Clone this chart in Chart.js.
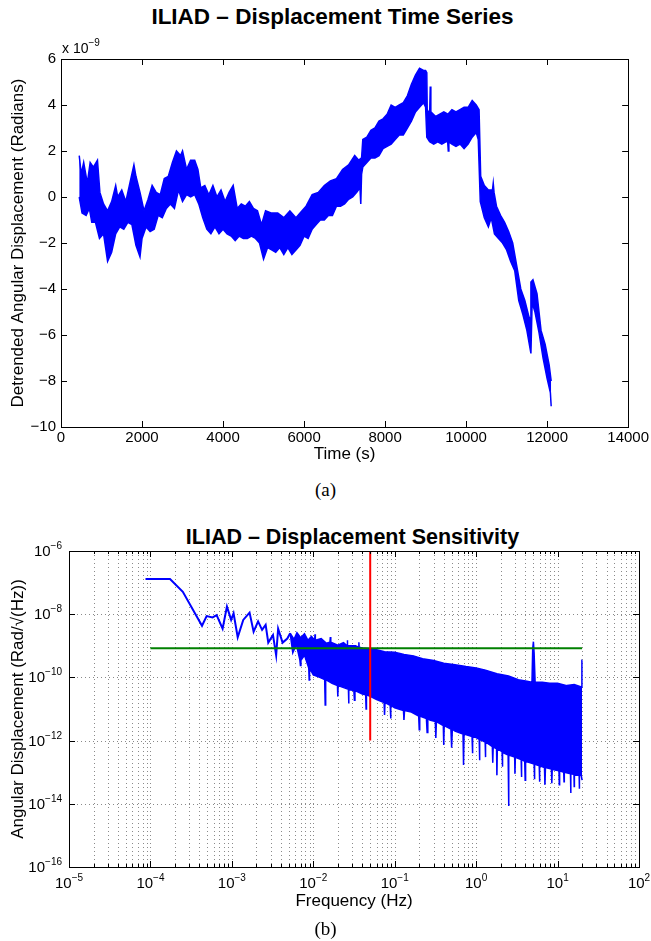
<!DOCTYPE html>
<html>
<head>
<meta charset="utf-8">
<script src="https://cdn.jsdelivr.net/npm/chart.js@4.4.1/dist/chart.umd.min.js"></script>
<style>
html, body { margin: 0; padding: 0; background: #fff; }
body { width: 651px; height: 941px; position: relative; overflow: hidden; font-family: "Liberation Sans", Arial, sans-serif; }
.box { position: absolute; left: 0; width: 651px; }
.title { position: absolute; width: 651px; text-align: center; font-weight: bold; line-height: 26px; color: #000; }
.cap { position: absolute; left: 0; width: 651px; text-align: center; font-family: "Liberation Serif", "Times New Roman", serif; font-size: 19px; line-height: 22px; color: #000; }
</style>
</head>
<body>
<div class="title" style="top:4px;left:7px;font-size:22.5px">ILIAD – Displacement Time Series</div>
<div class="box" style="top:0;height:470px"><canvas id="seriesChart"></canvas></div>
<div class="cap" style="top:479px">(a)</div>

<div class="title" style="top:524px;left:27px;font-size:21.5px">ILIAD – Displacement Sensitivity</div>
<div class="box" style="top:500px;height:420px"><canvas id="psdChart"></canvas></div>
<div class="cap" style="top:918px">(b)</div>

<script>
// ---- (a) detrended displacement, units of 1e-9 rad: upper / lower edge of the noise band
const timeUpper = [450, 500, 560, 650, 720, 800, 900, 960, 1050, 1150, 1250, 1350, 1400, 1500, 1600, 1700, 1800, 1850, 1950, 2050,
  2150, 2250, 2350, 2450, 2550, 2650, 2750, 2850, 2950, 3000, 3100, 3200, 3300, 3380, 3450, 3550, 3650, 3750, 3850, 3950,
  4050, 4150, 4250, 4350, 4450, 4550, 4650, 4750, 4850, 4950, 5050, 5200, 5350, 5500, 5650, 5800, 5950, 6050, 6200, 6350,
  6500, 6650, 6800, 6950, 7100, 7250, 7350, 7420, 7450, 7550, 7650, 7750, 7850, 7950, 8050, 8150, 8250, 8350, 8450, 8550, 8650,
  8750, 8850, 8950, 9000, 9030, 9040, 9100, 9115, 9130, 9250, 9350, 9450, 9550, 9650, 9750, 9850, 9950, 10050, 10150, 10250, 10320, 10360,
  10450, 10550, 10650, 10670, 10690, 10750, 10850, 10950, 11050, 11150, 11250, 11350, 11450, 11550, 11580, 11600, 11650, 11750, 11850, 11950, 12050, 12100];
const dispUpper = [1.8, 1.0, 1.5, 0.6, 1.5, 1.3, 1.6, 0.2, -0.3, -0.6, -0.2, 0.5, 0.0, 0.3, -0.2, 0.6, 1.4, 0.9, 0.2, -0.6,
  -0.1, 0.5, 0.2, 0.1, 0.8, 0.9, 1.5, 2.0, 1.8, 2.0, 1.2, 1.6, 1.6, 1.2, 0.4, 0.5, 0.1, 0.5, 0.0, 0.3,
  -0.2, 0.2, 0.5, -0.5, -0.3, -0.4, -0.2, -0.5, -0.6, -1.2, -0.6, -0.7, -0.7, -0.9, -0.6, -0.9, -0.6, -0.4, 0.1, 0.2,
  0.5, 0.7, 0.8, 1.2, 1.4, 1.8, 1.6, 1.7, 2.5, 2.6, 2.9, 3.0, 3.3, 3.4, 3.6, 4.0, 3.9, 4.0, 4.1, 4.4, 4.9,
  5.3, 5.6, 5.5, 5.5, 5.4, 3.8, 3.6, 4.8, 3.7, 3.5, 3.6, 3.7, 3.6, 3.8, 3.7, 3.8, 3.9, 3.9, 4.2, 4.0, 3.8, 0.9,
  0.5, 0.3, 0.3, 0.6, 0.2, -0.4, -0.8, -1.1, -1.5, -2.0, -3.0, -4.0, -4.5, -5.2, -5.3, -3.7, -3.6, -4.2, -5.8, -6.4, -7.3, -8.0];
const timeLower = [450, 520, 620, 700, 760, 850, 950, 1050, 1150, 1250, 1350, 1450, 1550, 1650, 1750, 1850, 1950, 2000, 2100, 2200,
  2300, 2400, 2500, 2600, 2700, 2800, 2900, 3000, 3100, 3200, 3300, 3400, 3500, 3600, 3700, 3800, 3900, 4000, 4100, 4200,
  4300, 4400, 4500, 4600, 4700, 4800, 4900, 5000, 5100, 5200, 5300, 5400, 5500, 5600, 5700, 5800, 5900, 6000, 6100, 6200,
  6300, 6400, 6500, 6600, 6700, 6800, 6900, 7000, 7100, 7200, 7300, 7380, 7400, 7420, 7450, 7550, 7650, 7750, 7850, 7950, 8050, 8150,
  8250, 8350, 8450, 8550, 8650, 8750, 8850, 8950, 9000, 9030, 9100, 9200, 9300, 9400, 9500, 9545, 9560, 9575, 9650, 9750, 9850, 9950,
  10050, 10150, 10250, 10300, 10350, 10450, 10550, 10620, 10700, 10800, 10900, 11000, 11100, 11200, 11300, 11400, 11500, 11600, 11630, 11700,
  11800, 11900, 12000, 12080, 12100];
const dispLower = [0.0, -0.7, -0.8, -0.5, -1.1, -1.1, -1.8, -1.6, -2.8, -2.4, -1.6, -1.3, -1.4, -1.1, -1.2, -2.1, -2.6, -1.8, -1.3, -1.5,
  -1.4, -0.8, -0.9, -0.5, -0.3, -0.5, 0.3, -0.2, 0.1, 0.0, 0.1, -0.3, -0.9, -1.4, -1.6, -1.3, -1.6, -1.4, -1.6, -1.7,
  -1.9, -1.7, -1.8, -1.8, -1.7, -1.8, -2.0, -2.7, -2.2, -2.3, -2.4, -2.2, -2.5, -2.2, -2.5, -2.3, -2.1, -1.7, -1.8, -1.4,
  -1.2, -1.0, -1.0, -0.8, -0.8, -0.4, -0.4, -0.3, -0.1, 0.0, 0.2, 0.4, -0.3, 1.0, 1.3, 1.5, 1.7, 1.7, 1.8, 2.1, 2.2, 2.3,
  2.5, 2.7, 2.7, 3.0, 3.3, 3.7, 3.9, 4.1, 3.9, 2.6, 2.4, 2.3, 2.4, 2.3, 2.4, 2.4, 2.0, 2.4, 2.3, 2.2, 2.3, 2.1,
  2.3, 2.6, 2.8, 2.5, -0.2, -0.9, -1.3, -0.9, -1.6, -1.8, -2.0, -2.3, -2.8, -3.2, -4.5, -5.1, -5.8, -6.8, -4.6, -5.0,
  -5.9, -7.0, -7.9, -8.5, -9.1];
const timeTicks = [0, 2000, 4000, 6000, 8000, 10000, 12000, 14000];
const dispTicks = [-10, -8, -6, -4, -2, 0, 2, 4, 6];

// ---- (b) amplitude spectral density, rad/sqrt(Hz)
const freqLow = [8.7e-5, 1.74e-4, 2.5e-4, 4.3e-4, 4.9e-4, 5.8e-4, 6.5e-4, 7.7e-4, 8.7e-4, 9.8e-4, 1.05e-3, 1.18e-3, 1.38e-3, 1.65e-3,
  1.85e-3, 2.1e-3, 2.35e-3, 2.6e-3, 2.8e-3, 3.2e-3, 3.5e-3, 3.7e-3, 4.2e-3, 4.8e-3, 5.2e-3];
const asdLow = [1.29e-7, 1.29e-7, 5.1e-8, 4.3e-9, 8.7e-9, 7.9e-9, 9.3e-9, 3.5e-9, 1.74e-8, 6.6e-9, 1.07e-8, 1.86e-9, 6.6e-9, 1.12e-8,
  2.8e-9, 5.9e-9, 3.2e-9, 4.6e-9, 1.26e-9, 2.2e-9, 5e-10, 3.5e-9, 1.26e-9, 1.7e-9, 2.5e-9];
const freqTop = [5.2e-3, 5.8e-3, 6.3e-3, 7e-3, 7.8e-3, 8.6e-3, 9.5e-3, 1.04e-2, 1.05e-2, 1.06e-2, 1.25e-2, 1.45e-2, 1.6e-2, 1.62e-2, 1.64e-2,
  2.0e-2, 2.35e-2, 2.6e-2, 2.62e-2, 2.64e-2, 3.3e-2, 3.6e-2, 3.63e-2, 3.66e-2, 4e-2, 5e-2, 6e-2, 7.5e-2,
  0.1, 0.13, 0.17, 0.22, 0.3, 0.4, 0.55, 0.75, 1.0, 1.3, 1.8, 2.5, 3.3, 4.2, 4.85, 4.95, 5.05, 5.15, 5.3,
  6.5, 8, 10, 13, 16, 19.6, 19.9, 20];
const asdTop = [2.5e-9, 1.6e-9, 2.6e-9, 1.8e-9, 2.4e-9, 1.5e-9, 2.0e-9, 1.5e-9, 2.3e-9, 1.5e-9, 1.7e-9, 1.2e-9, 1.3e-9, 1.9e-9, 1.3e-9,
  1.05e-9, 1.25e-9, 1.0e-9, 1.5e-9, 1.0e-9, 1.0e-9, 9e-10, 1.3e-9, 9e-10, 8.5e-10, 8e-10, 7.5e-10, 6.5e-10,
  6.3e-10, 5.3e-10, 4.8e-10, 3.9e-10, 3.4e-10, 2.8e-10, 2.5e-10, 2.2e-10, 2e-10, 1.7e-10, 1.3e-10, 1.1e-10, 8.5e-11, 7.5e-11, 7e-11, 8e-10, 1.35e-9, 6e-10, 7e-11,
  7e-11, 6.5e-11, 6.5e-11, 5.5e-11, 6e-11, 5e-11, 3.5e-10, 3.5e-10];
const freqBottom = [5.2e-3, 5.6e-3, 6.2e-3, 6.85e-3, 6.95e-3, 7.05e-3, 7.8e-3, 8.8e-3, 8.9e-3, 9.0e-3, 1.0e-2, 1.2e-2, 1.38e-2, 1.4e-2, 1.42e-2,
  1.7e-2, 1.98e-2, 2.0e-2, 2.02e-2, 2.5e-2, 2.7e-2, 2.72e-2, 2.74e-2, 3.15e-2, 3.2e-2, 3.25e-2, 4e-2, 4.4e-2, 4.45e-2, 4.5e-2, 5e-2, 6e-2,
  7.4e-2, 7.5e-2, 7.6e-2, 8.8e-2, 8.9e-2, 9.0e-2, 0.1, 0.128, 0.13, 0.132, 0.16, 0.197, 0.2, 0.203, 0.245, 0.25, 0.255, 0.27,
  0.315, 0.32, 0.325, 0.395, 0.4, 0.405, 0.49, 0.5, 0.51, 0.55, 0.69, 0.7, 0.71, 0.85, 0.89, 0.9, 0.91, 1.0, 1.09, 1.1, 1.11,
  1.29, 1.3, 1.31, 1.4, 1.58, 1.6, 1.62, 1.78, 1.8, 1.82, 2.08, 2.1, 2.12, 2.2, 2.47, 2.5, 2.53, 2.97, 3.0, 3.03, 3.2,
  3.57, 3.6, 3.63, 3.95, 4.0, 4.05, 5.15, 5.2, 5.25, 5.5, 5.95, 6.0, 6.05, 6.9, 7.0, 7.1, 8.4, 8.5, 8.6, 9,
  10.4, 10.5, 10.6, 11.9, 12, 12.1, 14.4, 14.5, 14.6, 15.9, 16, 16.1, 17, 18.4, 18.5, 18.6, 19.5, 20];
const asdBottom = [2.5e-9, 6e-10, 1.1e-9, 3.5e-10, 2.4e-10, 3.5e-10, 5e-10, 2e-10, 8.3e-11, 2e-10, 1.2e-10, 1e-10, 8.5e-11, 1.35e-11, 8.5e-11,
  6.5e-11, 5.5e-11, 2.5e-11, 5.5e-11, 4.5e-11, 4.2e-11, 1.5e-11, 4.2e-11, 3.8e-11, 1.9e-11, 3.8e-11, 3e-11, 2.8e-11, 1e-11, 2.8e-11, 2.5e-11, 2e-11,
  1.6e-11, 6.5e-12, 1.6e-11, 1.3e-11, 5e-12, 1.3e-11, 1.1e-11, 9e-12, 4.5e-12, 9e-12, 8e-12, 6e-12, 2.2e-12, 6e-12, 5e-12, 1.8e-12, 5e-12, 4.5e-12,
  4e-12, 1.2e-12, 4e-12, 3e-12, 7.3e-13, 3e-12, 2.3e-12, 6e-13, 2.3e-12, 2e-12, 1.6e-12, 1.7e-13, 1.6e-12, 1.4e-12, 1.35e-12, 4e-13, 1.35e-12, 1.25e-12, 1.1e-12, 2.4e-13, 1.1e-12,
  9e-13, 3e-13, 9e-13, 8e-13, 6.5e-13, 2e-13, 6.5e-13, 5.5e-13, 8e-14, 5.5e-13, 4.5e-13, 1.5e-13, 4.5e-13, 4e-13, 3.5e-13, 8.5e-15, 3.5e-13, 3e-13, 9e-14, 3e-13, 2.8e-13,
  2.5e-13, 7e-14, 2.5e-13, 2.2e-13, 5.6e-14, 2.2e-13, 1.8e-13, 6e-14, 1.8e-13, 1.7e-13, 1.6e-13, 5e-14, 1.6e-13, 1.4e-13, 4e-14, 1.4e-13, 1.25e-13, 4.5e-14, 1.25e-13, 1.2e-13,
  1.1e-13, 4e-14, 1.1e-13, 1e-13, 5e-14, 1e-13, 9e-14, 2.2e-14, 9e-14, 8.5e-14, 3.5e-14, 8.5e-14, 8e-14, 8e-14, 3e-14, 8e-14, 8e-14, 5.6e-14];
const markerFreq = [0.05, 0.05];
const markerAsd = [1e-6, 1e-12];
const levelFreq = [1e-4, 20];
const levelAsd = [8.3e-10, 8.3e-10];
const freqDecades = [-5, -4, -3, -2, -1, 0, 1, 2];
const asdDecades = [-16, -14, -12, -10, -8, -6];

const BLUE = '#0000ff';
const FONT = '"Liberation Sans", Arial, sans-serif';
const pts = (xs, ys) => xs.map((x, i) => ({ x: x, y: ys[i] }));

function drawPow(ctx, exp, x, baseY, align) {
    const base = '10';
    const sup = (exp < 0 ? '\u2212' : '') + Math.abs(exp);
    ctx.font = '15px ' + FONT;
    const wb = ctx.measureText(base).width;
    ctx.font = '10px ' + FONT;
    const ws = ctx.measureText(sup).width;
    const x0 = align === 'center' ? x - (wb + ws) / 2 : x - wb - ws;
    ctx.textAlign = 'left';
    ctx.textBaseline = 'alphabetic';
    ctx.font = '15px ' + FONT;
    ctx.fillText(base, x0, baseY);
    ctx.font = '10px ' + FONT;
    ctx.fillText(sup, x0 + wb, baseY - 7);
}

// matlab-like box: inward ticks on all sides, optional dotted grid
function boxAxes(cfg) {
    return {
        id: 'boxAxes',
        beforeDatasetsDraw(chart) {
            if (!cfg.grid) return;
            const { ctx, chartArea: a, scales: { x, y } } = chart;
            ctx.save();
            ctx.strokeStyle = '#8a8a8a';
            ctx.lineWidth = 1;
            ctx.setLineDash([1, 3]);
            ctx.beginPath();
            cfg.xGrid.forEach(v => {
                const px = Math.round(x.getPixelForValue(v)) + 0.5;
                ctx.moveTo(px, a.top); ctx.lineTo(px, a.bottom);
            });
            cfg.yGrid.forEach(v => {
                const py = Math.round(y.getPixelForValue(v)) + 0.5;
                ctx.moveTo(a.left, py); ctx.lineTo(a.right, py);
            });
            ctx.stroke();
            ctx.restore();
        },
        afterDraw(chart) {
            const { ctx, chartArea: a, scales: { x, y } } = chart;
            ctx.save();
            ctx.strokeStyle = '#000';
            ctx.lineWidth = 1;
            ctx.beginPath();
            cfg.xMajor.forEach(v => {
                const px = Math.round(x.getPixelForValue(v)) + 0.5;
                ctx.moveTo(px, a.bottom); ctx.lineTo(px, a.bottom - 6);
                ctx.moveTo(px, a.top); ctx.lineTo(px, a.top + 6);
            });
            (cfg.xMinor || []).forEach(v => {
                const px = Math.round(x.getPixelForValue(v)) + 0.5;
                ctx.moveTo(px, a.bottom); ctx.lineTo(px, a.bottom - 3);
                ctx.moveTo(px, a.top); ctx.lineTo(px, a.top + 3);
            });
            cfg.yMajor.forEach(v => {
                const py = Math.round(y.getPixelForValue(v)) + 0.5;
                ctx.moveTo(a.left, py); ctx.lineTo(a.left + 6, py);
                ctx.moveTo(a.right, py); ctx.lineTo(a.right - 6, py);
            });
            ctx.stroke();
            ctx.strokeRect(Math.round(a.left) + 0.5, Math.round(a.top) + 0.5,
                Math.round(a.right - a.left), Math.round(a.bottom - a.top));
            ctx.fillStyle = '#000';
            if (cfg.powLabels) {
                freqDecades.forEach(e => drawPow(ctx, e, x.getPixelForValue(Math.pow(10, e)), a.bottom + 21, 'center'));
                asdDecades.forEach(e => drawPow(ctx, e, a.left - 7, y.getPixelForValue(Math.pow(10, e)) + 5, 'right'));
            }
            if (cfg.multiplier) {
                ctx.font = '14px ' + FONT;
                ctx.textAlign = 'left';
                ctx.textBaseline = 'alphabetic';
                ctx.fillText('x 10', a.left + 1, a.top - 6);
                const w = ctx.measureText('x 10').width;
                ctx.font = '10px ' + FONT;
                ctx.fillText('\u22129', a.left + 1 + w, a.top - 13);
            }
            ctx.restore();
        }
    };
}

const xMinorLog = [];
freqDecades.slice(0, -1).forEach(e => { for (let k = 2; k <= 9; k++) xMinorLog.push(k * Math.pow(10, e)); });
const xMajorLog = freqDecades.map(e => Math.pow(10, e));
const yMajorLog = asdDecades.map(e => Math.pow(10, e));

const ctxSeries = document.getElementById('seriesChart');
const ctxPsd = document.getElementById('psdChart');

if (ctxSeries) {
    new Chart(ctxSeries, {
        type: 'line',
        data: {
            datasets: [
                { data: pts(timeLower, dispLower), borderColor: BLUE, borderWidth: 1.5, pointRadius: 0, fill: false },
                { data: pts(timeUpper, dispUpper), borderColor: BLUE, backgroundColor: BLUE, borderWidth: 1.5, pointRadius: 0, fill: '-1' }
            ]
        },
        options: {
            responsive: true,
            maintainAspectRatio: false,
            animation: false,
            layout: { padding: { top: 59, right: 22, left: 0, bottom: 0 } },
            plugins: { legend: { display: false }, tooltip: { enabled: false } },
            scales: {
                x: {
                    type: 'linear', min: 0, max: 14000,
                    afterBuildTicks: s => { s.ticks = timeTicks.map(v => ({ value: v })); },
                    afterFit: s => { s.height = 43; },
                    grid: { display: false, drawTicks: false },
                    border: { display: false },
                    ticks: { color: '#000', font: { family: FONT, size: 15 }, padding: 2, maxRotation: 0, autoSkip: false, callback: v => String(v) },
                    title: { display: true, text: 'Time (s)', color: '#000', font: { family: FONT, size: 17 }, padding: { top: 0, bottom: 5 } }
                },
                y: {
                    type: 'linear', min: -10, max: 6,
                    afterBuildTicks: s => { s.ticks = dispTicks.map(v => ({ value: v })); },
                    afterFit: s => { s.width = 61; },
                    grid: { display: false, drawTicks: false },
                    border: { display: false },
                    ticks: { color: '#000', font: { family: FONT, size: 15 }, padding: 5, callback: v => String(v).replace('-', '\u2212') },
                    title: { display: true, text: 'Detrended Angular Displacement (Radians)', color: '#000', font: { family: FONT, size: 17 }, padding: { top: 8, bottom: 0 } }
                }
            }
        },
        plugins: [boxAxes({ xMajor: timeTicks, yMajor: dispTicks, multiplier: true })]
    });
}

if (ctxPsd) {
    new Chart(ctxPsd, {
        type: 'line',
        data: {
            datasets: [
                { data: pts(markerFreq, markerAsd), borderColor: '#ff0000', borderWidth: 2, pointRadius: 0, fill: false },
                { data: pts(levelFreq, levelAsd), borderColor: '#008000', borderWidth: 2, pointRadius: 0, fill: false },
                { data: pts(freqLow, asdLow), borderColor: BLUE, borderWidth: 2, pointRadius: 0, fill: false },
                { data: pts(freqBottom, asdBottom), borderColor: BLUE, borderWidth: 1.5, pointRadius: 0, fill: false },
                { data: pts(freqTop, asdTop), borderColor: BLUE, backgroundColor: BLUE, borderWidth: 1.5, pointRadius: 0, fill: '-1' }
            ]
        },
        options: {
            responsive: true,
            maintainAspectRatio: false,
            animation: false,
            layout: { padding: { top: 51, right: 12, left: 0, bottom: 0 } },
            plugins: { legend: { display: false }, tooltip: { enabled: false } },
            scales: {
                x: {
                    type: 'logarithmic', min: 1e-5, max: 100,
                    afterFit: s => { s.height = 53; },
                    grid: { display: false, drawTicks: false },
                    border: { display: false },
                    ticks: { display: false },
                    title: { display: true, text: 'Frequency (Hz)', color: '#000', font: { family: FONT, size: 17 }, padding: { top: 0, bottom: 8 } }
                },
                y: {
                    type: 'logarithmic', min: 1e-16, max: 1e-6,
                    afterFit: s => { s.width = 69; },
                    grid: { display: false, drawTicks: false },
                    border: { display: false },
                    ticks: { display: false },
                    title: { display: true, text: 'Angular Displacement (Rad/\u221A(Hz))', color: '#000', font: { family: FONT, size: 17 }, padding: { top: 8, bottom: 0 } }
                }
            }
        },
        plugins: [boxAxes({ grid: true, xGrid: xMajorLog.concat(xMinorLog), yGrid: yMajorLog, xMajor: xMajorLog, xMinor: xMinorLog, yMajor: yMajorLog, powLabels: true })]
    });
}
</script>
</body>
</html>
